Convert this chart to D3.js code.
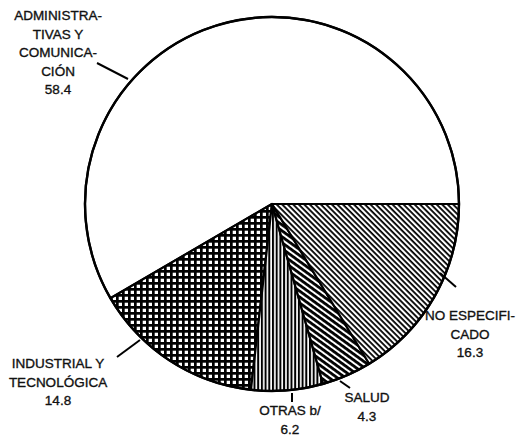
<!DOCTYPE html>
<html>
<head>
<meta charset="utf-8">
<script src="https://cdn.jsdelivr.net/npm/d3@7"></script>
<style>
  body { margin: 0; background: #fff; }
  svg { display: block; }
  .label text { font-family: "Liberation Sans", Arial, sans-serif; font-size: 13.5px; fill: #111; stroke: #111; stroke-width: 0.35px; }
</style>
</head>
<body>
<div id="chart"></div>
<script>
'use strict'

// data
const categories = ['ADMINISTRATIVAS Y COMUNICACIÓN', 'INDUSTRIAL Y TECNOLÓGICA', 'OTRAS b/', 'SALUD', 'NO ESPECIFICADO']
const values = [58.4, 14.8, 6.2, 4.3, 16.3]
const labelLines = [
  ['ADMINISTRA-', 'TIVAS Y', 'COMUNICA-', 'CIÓN', '58.4'],
  ['INDUSTRIAL Y', 'TECNOLÓGICA', '14.8'],
  ['OTRAS b/', '6.2'],
  ['SALUD', '4.3'],
  ['NO ESPECIFI-', 'CADO', '16.3']
]
const fills = ['white', 'url(#grid)', 'url(#vert)', 'url(#diagThick)', 'url(#diagThin)']

// layout (label anchors and leader lines, relative to pie centre)
const layout = [
  {x: -214, y: -184, lead: [[-144, -125], [-175, -141]]},
  {x: -214, y: 164, lead: [[-132, 136], [-155, 153]]},
  {x: 18, y: 211, lead: [[20, 189], [20, 198]]},
  {x: 95, y: 198, lead: [[68, 177], [78, 184]]},
  {x: 198, y: 116, lead: [[168, 69], [184, 83]]}
]

const config = {width: 531, height: 436, cx: 272, cy: 204, r: 187, lineH: 18.6}

const svg = d3.select('#chart').append('svg')
  .attr('width', config.width)
  .attr('height', config.height)

svg.append('rect').attr('width', config.width).attr('height', config.height).attr('fill', '#fff')

let defs = svg.append('defs')

let grid = defs.append('pattern').attr('id', 'grid')
  .attr('patternUnits', 'userSpaceOnUse').attr('width', 6).attr('height', 6)
grid.append('rect').attr('width', 6).attr('height', 6).attr('fill', '#fff')
grid.append('rect').attr('width', 6).attr('height', 2.7).attr('fill', '#000')
grid.append('rect').attr('width', 2.7).attr('height', 6).attr('fill', '#000')

let vert = defs.append('pattern').attr('id', 'vert')
  .attr('patternUnits', 'userSpaceOnUse').attr('width', 3.7).attr('height', 10)
vert.append('rect').attr('width', 3.7).attr('height', 10).attr('fill', '#fff')
vert.append('rect').attr('width', 2).attr('height', 10).attr('fill', '#000')

function stripes(id, angle, gap, thick) {
  let p = defs.append('pattern').attr('id', id)
    .attr('patternUnits', 'userSpaceOnUse').attr('width', 10).attr('height', gap)
    .attr('patternTransform', `rotate(${angle})`)
  p.append('rect').attr('width', 10).attr('height', gap).attr('fill', '#fff')
  p.append('rect').attr('width', 10).attr('height', thick).attr('fill', '#000')
}
stripes('diagThin', 45, 3.9, 1.8)
stripes('diagThick', 36, 4.8, 2.8)

const pie = d3.pie().sort(null)
  .startAngle(Math.PI / 2)
  .endAngle(Math.PI / 2 - 2 * Math.PI)
const arc = d3.arc().innerRadius(0).outerRadius(config.r)

const g = svg.append('g').attr('transform', `translate(${config.cx}, ${config.cy})`)

g.selectAll('path.slice').data(pie(values))
  .enter().append('path')
  .attr('class', 'slice')
  .attr('d', arc)
  .attr('fill', (d, i) => fills[i])
  .attr('stroke', '#000')
  .attr('stroke-width', 2.2)
  .attr('stroke-linejoin', 'round')

g.append('circle').attr('r', config.r).attr('fill', 'none').attr('stroke', '#000').attr('stroke-width', 2.4)

// labels
let labels = g.selectAll('g.label').data(categories)
  .enter().append('g').attr('class', 'label')

labels.append('line')
  .attr('x1', (d, i) => layout[i].lead[0][0])
  .attr('y1', (d, i) => layout[i].lead[0][1])
  .attr('x2', (d, i) => layout[i].lead[1][0])
  .attr('y2', (d, i) => layout[i].lead[1][1])
  .attr('stroke', '#000')
  .attr('stroke-width', 2)

labels.each(function (d, i) {
  let t = d3.select(this).append('text')
    .attr('text-anchor', 'middle')
  labelLines[i].forEach((s, j) => {
    t.append('tspan')
      .attr('x', layout[i].x)
      .attr('y', layout[i].y + j * config.lineH)
      .text(s)
  })
})
</script>
</body>
</html>
